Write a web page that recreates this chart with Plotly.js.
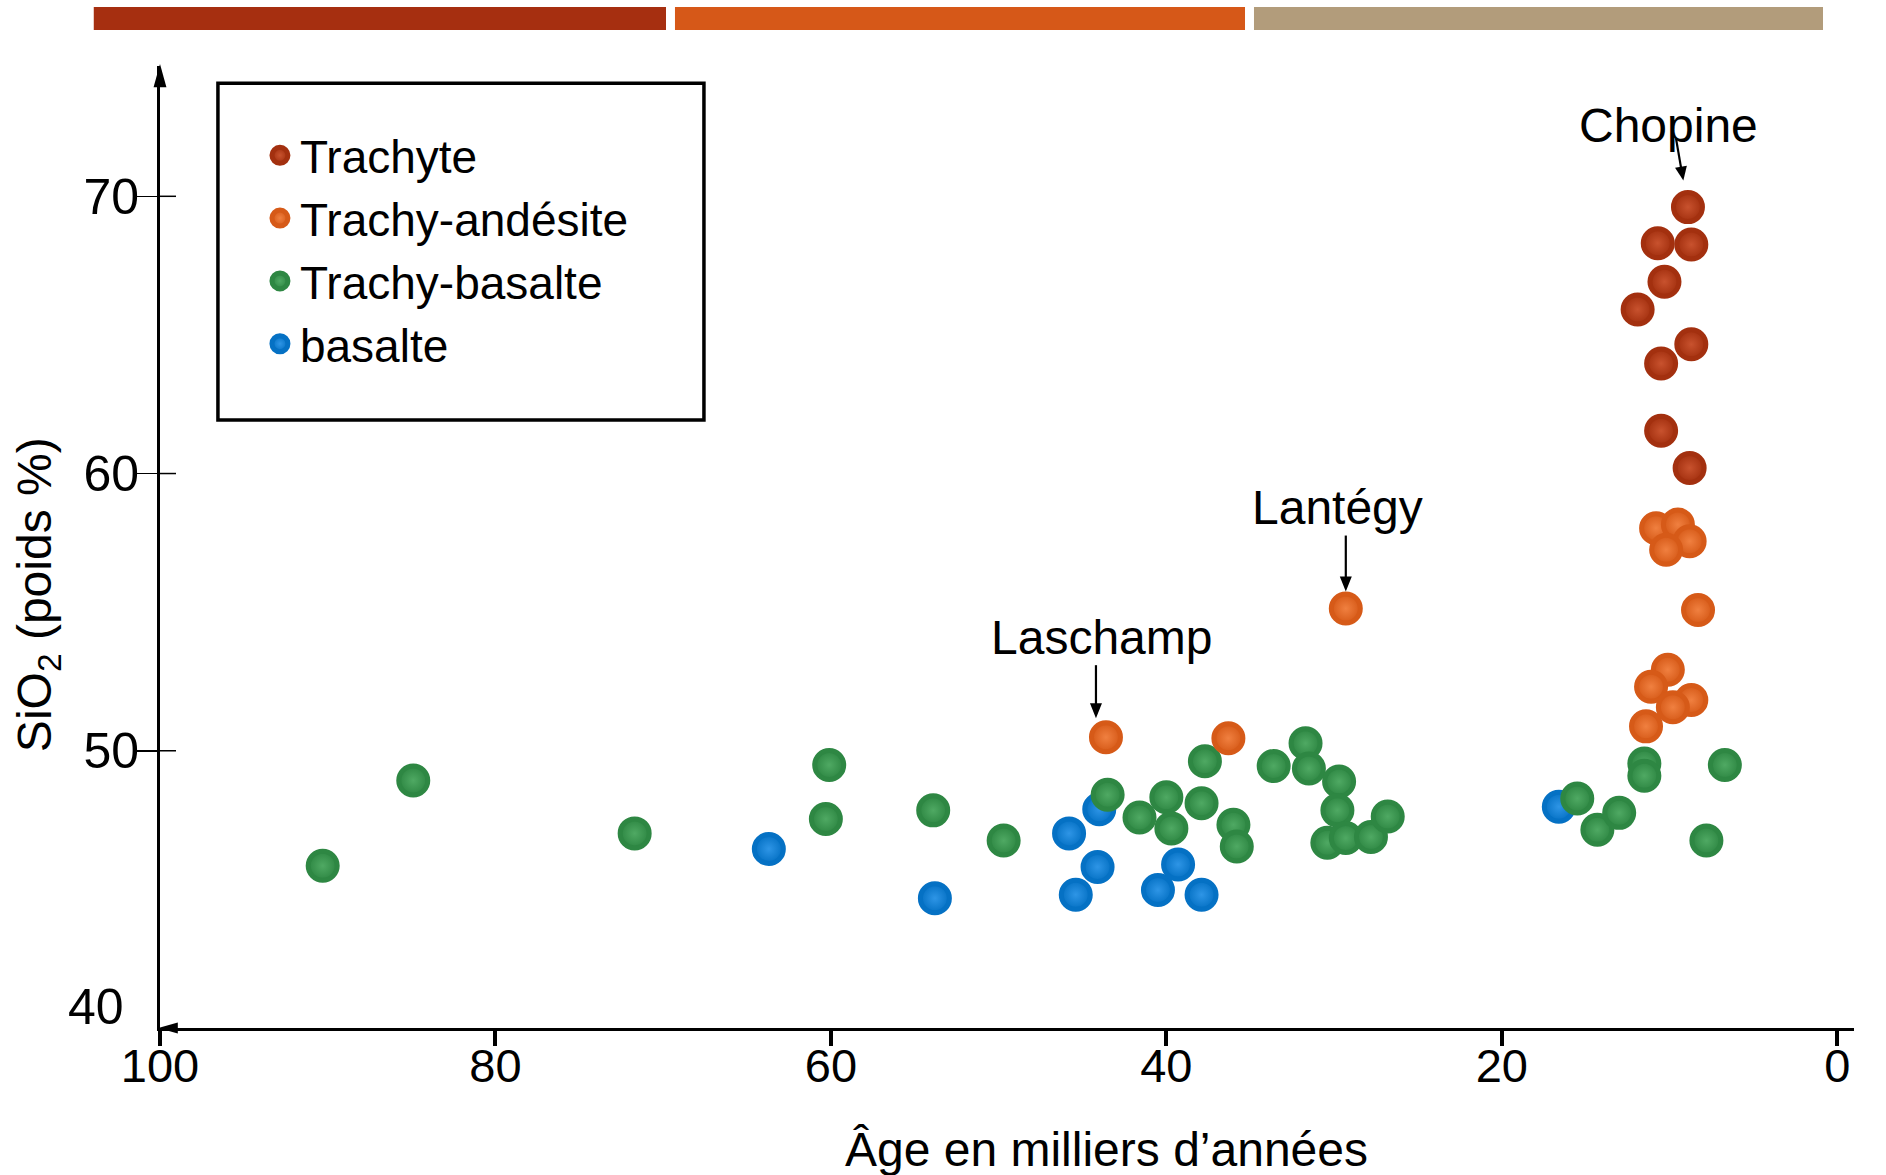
<!DOCTYPE html>
<html>
<head>
<meta charset="utf-8">
<script src="https://cdn.plot.ly/plotly-3.0.1.min.js"></script>
<style>
  html, body { margin: 0; padding: 0; background: #ffffff; }
  #chart { width: 1886px; height: 1175px; }
</style>
</head>
<body>
<div id="chart"></div>
<script>
// ---- Data (age in thousands of years, SiO2 weight %) ----
const seriesNames = ["Trachyte", "Trachy-andésite", "Trachy-basalte", "basalte"];

const ageTrachyte = [8.9, 10.7, 8.7, 10.3, 11.9, 8.7, 10.5, 10.5, 8.8];
const sioTrachyte = [69.61, 68.31, 68.26, 66.92, 65.92, 64.66, 63.97, 61.54, 60.2];

const ageTrachyAndesite = [43.6, 36.3, 29.3, 10.8, 9.5, 8.8, 10.2, 8.3, 10.1, 11.1, 8.7, 9.8, 11.4];
const sioTrachyAndesite = [50.49, 50.45, 55.13, 58.03, 58.16, 57.56, 57.25, 55.08, 52.92, 52.31, 51.83, 51.57, 50.88];

const ageTrachyBasalte = [90.3, 84.9, 71.7, 60.1, 60.3, 53.9, 49.7, 43.5, 41.6, 40.0, 39.7, 37.9, 37.7, 36.0, 35.8,
                          33.6, 31.7, 31.5, 29.7, 29.8, 30.4, 29.3, 27.8, 26.8, 15.5, 14.3, 13.0, 11.5, 11.5, 6.7, 7.8];
const sioTrachyBasalte = [45.85, 48.93, 47.02, 49.49, 47.54, 47.85, 46.76, 48.41, 47.59, 48.32, 47.2, 48.11, 49.62, 47.33, 46.55,
                          49.45, 50.27, 49.36, 48.89, 47.85, 46.68, 46.85, 46.89, 47.63, 48.28, 47.15, 47.76, 49.54, 49.10, 49.49, 46.76];

const ageBasalte = [63.7, 53.8, 45.8, 44.0, 44.1, 45.4, 40.5, 39.3, 37.9, 16.6];
const sioBasalte = [46.46, 44.68, 47.02, 47.89, 45.81, 44.81, 44.98, 45.9, 44.81, 47.98];

const xTickVals = [100, 80, 60, 40, 20, 0];
const xTickText = ["100", "80", "60", "40", "20", "0"];
const yTickVals = [40, 50, 60, 70];
const yTickText = ["40", "50", "60", "70"];

const labelNames = ["Chopine", "Lantégy", "Laschamp"];
const labelAge = [8.9, 29.3, 43.6];
const labelSio = [69.61, 55.13, 50.49];

// ---- Styles ----
const FONT = "Liberation Sans, Arial, Helvetica, sans-serif";
const colors = {
  "Trachyte":        { base: "#A3300F", light: "#C8522E" },
  "Trachy-andésite": { base: "#D65A18", light: "#F08040" },
  "Trachy-basalte":  { base: "#2E8743", light: "#4FA963" },
  "basalte":         { base: "#0571C4", light: "#2E95E6" }
};

function mk(name, xs, ys) {
  return {
    type: "scatter", mode: "markers", name: name, x: xs, y: ys,
    marker: {
      size: 29, color: colors[name].base,
      line: { width: 5, color: colors[name].base },
      gradient: { type: "radial", color: colors[name].light }
    },
    hoverinfo: "x+y+name"
  };
}

const traces = [
  mk("basalte", ageBasalte, sioBasalte),
  mk("Trachy-basalte", ageTrachyBasalte, sioTrachyBasalte),
  mk("Trachy-andésite", ageTrachyAndesite, sioTrachyAndesite),
  mk("Trachyte", ageTrachyte, sioTrachyte)
];

// label text offsets and arrow geometry (pixels, relative to the annotated point; +y is up)
const labelTextShift = [[-19, 82], [-8, 101], [-4, 100]];
const arrowLines = [[-12, 69, -7, 40], [0, 73, 0, 30], [-10, 72, -10, 30]];
const arrowHeads = [
  "M -1.1,41.4 L -4.6,26.6 L -12.9,39.4 Z",
  "M -6,32 L 0,17 L 6,32 Z",
  "M -16,34 L -10,19 L -4,34 Z"
];

const annotations = [];
const shapes = [];
for (let i = 0; i < labelNames.length; i++) {
  annotations.push({
    x: labelAge[i], y: labelSio[i], xref: "x", yref: "y",
    text: labelNames[i], showarrow: false,
    xshift: labelTextShift[i][0], yshift: labelTextShift[i][1],
    font: { family: FONT, size: 48, color: "#000" }
  });
  shapes.push({
    type: "line", xref: "x", yref: "y",
    xsizemode: "pixel", ysizemode: "pixel",
    xanchor: labelAge[i], yanchor: labelSio[i],
    x0: arrowLines[i][0], y0: arrowLines[i][1], x1: arrowLines[i][2], y1: arrowLines[i][3],
    line: { color: "#000", width: 2.2 }
  });
  shapes.push({
    type: "path", xref: "x", yref: "y",
    xsizemode: "pixel", ysizemode: "pixel",
    xanchor: labelAge[i], yanchor: labelSio[i],
    path: arrowHeads[i], fillcolor: "#000", line: { width: 0 }
  });
}
// inner halves of the y ticks (ticks cross the axis line)
for (let i = 1; i < yTickVals.length; i++) {
  shapes.push({
    type: "line", xref: "paper", yref: "y",
    xsizemode: "pixel", xanchor: 0, x0: 0, x1: 16,
    y0: yTickVals[i], y1: yTickVals[i],
    line: { color: "#000", width: 1.5 }
  });
}
// the lowest y label sits just above the x axis line, clear of the "100" label
annotations.push({
  xref: "paper", yref: "y", x: 0, y: yTickVals[0], xanchor: "right", yanchor: "middle",
  xshift: -34, yshift: 21, text: yTickText[0], showarrow: false,
  font: { family: FONT, size: 50, color: "#000" }
});
// axis titles
annotations.push({
  xref: "paper", yref: "paper", x: 0.5585, y: -0.126, xanchor: "center", yanchor: "middle",
  text: "Âge en milliers d’années", showarrow: false,
  font: { family: FONT, size: 48, color: "#000" }
});
annotations.push({
  xref: "paper", yref: "paper", x: -0.072, y: 0.45, xanchor: "center", yanchor: "middle",
  text: "SiO<sub>2</sub> (poids %)", textangle: -90, showarrow: false,
  font: { family: FONT, size: 48, color: "#000" }
});

shapes.push(
  // top period bars
  { type: "rect", xref: "paper", yref: "paper", x0: -0.0391, x1: 0.2987, y0: 1.0374, y1: 1.0613, fillcolor: "#A62F10", line: { width: 0 } },
  { type: "rect", xref: "paper", yref: "paper", x0: 0.3040, x1: 0.6405, y0: 1.0374, y1: 1.0613, fillcolor: "#D65818", line: { width: 0 } },
  { type: "rect", xref: "paper", yref: "paper", x0: 0.6458, x1: 0.9817, y0: 1.0374, y1: 1.0613, fillcolor: "#B29C7B", line: { width: 0 } },
  // legend frame
  { type: "rect", xref: "paper", yref: "paper", x0: 0.0342, x1: 0.3211, y0: 0.632, y1: 0.982, fillcolor: "rgba(0,0,0,0)", line: { width: 3.5, color: "#000" } },
  // axis arrowheads
  { type: "path", xref: "paper", yref: "paper", path: "M -0.0038,0.978 L 0,1.002 L 0.0038,0.978 Z", fillcolor: "#000", line: { width: 0 } },
  { type: "path", xref: "paper", yref: "paper", path: "M 0.0105,0.0058 L -0.001,0 L 0.0105,-0.0058 Z", fillcolor: "#000", line: { width: 0 } }
);

const layout = {
  width: 1886, height: 1175,
  margin: { l: 160, r: 32, t: 66, b: 147 },
  paper_bgcolor: "#ffffff", plot_bgcolor: "#ffffff",
  font: { family: FONT, color: "#000" },
  showlegend: true,
  legend: {
    x: 0.059, y: 0.945, xanchor: "left", yanchor: "top",
    traceorder: "reversed", bgcolor: "rgba(0,0,0,0)", borderwidth: 0,
    font: { family: FONT, size: 46, color: "#000" }
  },
  xaxis: {
    range: [100, -1], showgrid: false, zeroline: false,
    showline: true, linecolor: "#000", linewidth: 3,
    ticks: "outside", ticklen: 15, tickwidth: 4, tickcolor: "#000",
    tickvals: xTickVals, ticktext: xTickText,
    ticklabelstandoff: -20,
    tickfont: { family: FONT, size: 47, color: "#000" },
    fixedrange: true
  },
  yaxis: {
    range: [40, 74.7], showgrid: false, zeroline: false,
    showline: true, linecolor: "#000", linewidth: 3,
    ticks: "outside", ticklen: 20, tickwidth: 1.5, tickcolor: "#000",
    tickvals: yTickVals.slice(1), ticktext: yTickText.slice(1),
    ticklabelstandoff: -12,
    tickfont: { family: FONT, size: 50, color: "#000" },
    fixedrange: true
  },
  annotations: annotations,
  shapes: shapes
};

Plotly.newPlot("chart", traces, layout, { displayModeBar: false, staticPlot: true });
</script>
</body>
</html>
